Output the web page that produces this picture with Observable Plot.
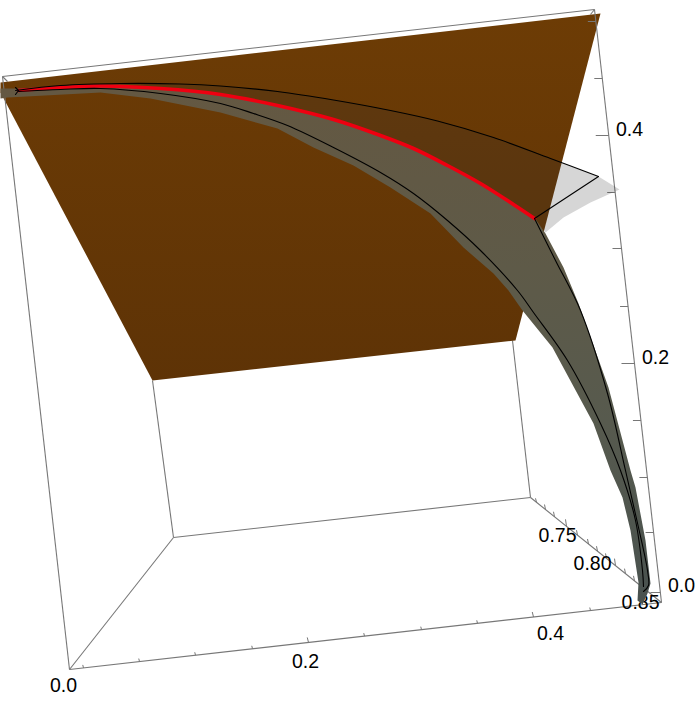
<!DOCTYPE html>
<html><head><meta charset="utf-8">
<script src="https://cdn.jsdelivr.net/npm/d3@7"></script>
<script src="https://cdn.jsdelivr.net/npm/@observablehq/plot@0.6"></script>
<style>html,body{margin:0;padding:0;background:#fff}svg{display:block}</style>
</head><body><div id="chart"></div>
<script>
const brownPlane = [[0,82],[600,13],[515,340],[152,380],[0,92]];
const sheetUpper = [[15,90],[60,85],[120,83],[180,83.5],[220,85.5],[277,91],[333,99.5],[390,110],[437,120.5],[493,137],[550,158],[598,176]];
const sheetTip = [[598,176],[619,189],[590,202],[563,217],[545,232],[534,218]];
const redCurve = [[18,90],[60,87],[100,85.5],[160,88],[220,94],[277,105],[333,119],[380,135],[413,148],[447,165],[480,183],[513,204],[534,218]];
const lowerBlack = [[18,91],[60,89],[100,88],[160,93],[220,103],[253,113],[287,125],[333,147],[380,172],[413,193],[447,220],[480,250],[517,290],[533,312],[567,360],[600,423],[620,470],[635,520],[642,570],[643,586]];
const rightBlack = [[534,218],[555,260],[580,310],[607,393],[625,470],[638,527],[647,570],[648,585],[643,591]];
const upperBand = [[0,88],[18,88],[60,85.5],[100,84],[160,87],[220,93],[277,104],[333,118],[380,134],[413,147],[447,164],[480,182],[513,203],[534,217],[545,233],[563,267],[578,303],[608,387],[630,470],[635,487],[645,540],[650,583],[647,593],[642,604]];
const lowerBand = [[637,600],[638,582],[630,530],[622,497],[610,470],[593,423],[552,347],[522,310],[508,290],[493,273],[463,247],[430,213],[390,187],[353,165],[313,147],[277,128],[220,112],[150,98],[100,92],[7,97],[0,98]];
const startMark = [[15,87],[18,90],[15,94]];

const boxBack = [
  [173,537,69,669],[173,537,530,497],[530,497,661,602],[173,537,152,380],[530,497,512,340],[2,76,7,81],[594,9,590,14]
];
const boxFront = [
  [2,76,594,9],[594,9,661,602],[2,76,69,669],[69,669,661,602]
];
const xTicks = [[83,3],[139,3],[195,3],[252,3],[308,5],[364,3],[421,3],[477,3],[533,5],[590,3],[646,3]];
const zTicks = [[592,10],[532,8],[477,8],[420,8],[363,13],[306,8],[248,9],[192,8],[135,13],[78,8],[21,8]];
const yTicks = [[536,4],[545,5],[554,5],[566,7],[577,5],[588,5],[597,5],[606,5],[615,7],[625,5],[634,5]];
const labels = ["0.0","0.2","0.4","0.0","0.2","0.4","0.75","0.80","0.85"];
const labelX = [63,305,550,681,655,629,557,592,640];
const labelY = [685,661,633,585,357,129,535,563,602];

const px = d => d[0], py = d => d[1];
const botY = x => 669 - (67/592)*(x-69);
const zX = y => 594 + (67/593)*(y-9);
const yY = x => 497 + (105/131)*(x-530);
const gray = "#777";
const lw = 1.1;

const chart = Plot.plot({
  width: 698, height: 710, margin: 0,
  x: {domain: [0,698], range: [0,698], axis: null},
  y: {domain: [0,710], range: [0,710], axis: null},
  style: {background: "#fff"},
  marks: [
    Plot.link(boxBack, {x1:d=>d[0], y1:d=>d[1], x2:d=>d[2], y2:d=>d[3], stroke:gray, strokeWidth:lw}),
    Plot.line(brownPlane, {x:px, y:py, curve:"linear-closed", fill:"url(#brownGrad)", stroke:"none"}),
    Plot.link(boxFront, {x1:d=>d[0], y1:d=>d[1], x2:d=>d[2], y2:d=>d[3], stroke:gray, strokeWidth:lw}),
    Plot.link(xTicks, {x1:d=>d[0], y1:d=>botY(d[0]), x2:d=>d[0]-d[1]*0.25, y2:d=>botY(d[0])-d[1], stroke:gray, strokeWidth:1}),
    Plot.link(zTicks, {x1:d=>zX(d[0]), y1:d=>d[0], x2:d=>zX(d[0])-d[1], y2:d=>d[0], stroke:gray, strokeWidth:1}),
    Plot.link(yTicks, {x1:d=>d[0], y1:d=>yY(d[0]), x2:d=>d[0]-1, y2:d=>yY(d[0])-d[1], stroke:gray, strokeWidth:1}),
    Plot.text(labels, {x:(d,i)=>labelX[i], y:(d,i)=>labelY[i], text:d=>d, fontFamily:"Liberation Sans, Arial, sans-serif", fontSize:19.5, fill:"#000", textAnchor:"middle", lineAnchor:"middle"}),
    Plot.line([...sheetUpper, ...sheetTip, ...redCurve.slice().reverse()], {x:px, y:py, curve:"linear-closed", fill:"#333", fillOpacity:0.2, stroke:"none"}),
    Plot.line([...upperBand, ...lowerBand], {x:px, y:py, curve:"linear-closed", fill:"url(#bandGrad)", stroke:"none"}),
    Plot.line(redCurve, {x:px, y:py, curve:"catmull-rom", stroke:"#ee0011", strokeWidth:3.6}),
    Plot.line(sheetUpper, {x:px, y:py, curve:"catmull-rom", stroke:"#000", strokeWidth:1.1}),
    Plot.line([[598,176],[534,218]], {x:px, y:py, stroke:"#000", strokeWidth:1.1}),
    Plot.line(lowerBlack, {x:px, y:py, curve:"catmull-rom", stroke:"#000", strokeWidth:1.1}),
    Plot.line(rightBlack, {x:px, y:py, curve:"catmull-rom", stroke:"#000", strokeWidth:1.1}),
    Plot.line(startMark, {x:px, y:py, stroke:"#000", strokeWidth:1.1})
  ]
});
const defs = d3.select(chart).insert("defs", ":first-child");
function grad(id, y1, y2, stops){
  const g = defs.append("linearGradient").attr("id",id).attr("gradientUnits","userSpaceOnUse")
    .attr("x1",0).attr("x2",0).attr("y1",y1).attr("y2",y2);
  stops.forEach(([o,c]) => g.append("stop").attr("offset",o).attr("stop-color",c));
}
grad("brownGrad", 13, 380, [[0,"#6d3c05"],[1,"#5e3306"]]);
grad("bandGrad", 90, 600, [[0,"#645842"],[0.35,"#5e5a48"],[0.65,"#575a4e"],[1,"#49524f"]]);
document.getElementById("chart").append(chart);
</script>
</body></html>
